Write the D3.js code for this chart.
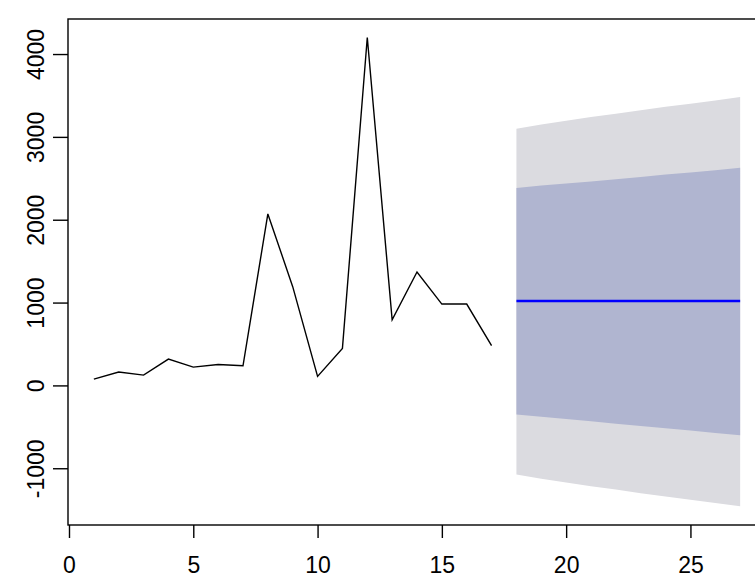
<!DOCTYPE html>
<html>
<head>
<meta charset="utf-8">
<script src="https://cdn.jsdelivr.net/npm/d3@7"></script>
<style>
  body { margin: 0; background: #fff; }
  svg { display: block; }
  .axis text { font-family: "Liberation Sans", Arial, sans-serif; font-size: 23px; fill: #000; }
</style>
</head>
<body>
<div id="chart"></div>
<script>
// observed series, t = 1..17
const obsX = [1, 2, 3, 4, 5, 6, 7, 8, 9, 10, 11, 12, 13, 14, 15, 16, 17];
const obsY = [76, 161, 124, 318, 221, 253, 237, 2070, 1192, 109, 447, 4200, 793, 1369, 982, 982, 479];

// forecast, t = 18..27
const fcX = [18, 19, 20, 21, 22, 23, 24, 25, 26, 27];
const fcMean = [1019, 1019, 1019, 1019, 1019, 1019, 1019, 1019, 1019, 1019];
const lo80 = [-350, -378, -406, -434, -462, -490, -518, -545, -573, -601];
const hi80 = [2384, 2412, 2436, 2460, 2489, 2517, 2545, 2569, 2598, 2626];
const lo95 = [-1076, -1126, -1172, -1217, -1257, -1302, -1342, -1380, -1420, -1459];
const hi95 = [3099, 3149, 3194, 3239, 3279, 3323, 3363, 3400, 3440, 3480];

const xTicks = [0, 5, 10, 15, 20, 25];
const yTicks = [-1000, 0, 1000, 2000, 3000, 4000];

const W = 755, H = 580;
const plot = { left: 68, top: 19, right: 766, bottom: 525 };

// R style: 4% padding on both ends of the x range
let x = d3.scaleLinear().domain([-0.04, 28.04]).range([plot.left, plot.right]);
let y = d3.scaleLinear().domain([-1685, 4423]).range([plot.bottom, plot.top]);

// plain hyphen like R, not the unicode minus
const fmt = d => String(d);

let svg = d3.select('#chart').append('svg')
    .attr('width', W)
    .attr('height', H);

svg.append('defs').append('clipPath').attr('id', 'clip')
    .append('rect')
    .attr('x', plot.left).attr('y', plot.top)
    .attr('width', plot.right - plot.left).attr('height', plot.bottom - plot.top);

let g = svg.append('g').attr('clip-path', 'url(#clip)');

// prediction bands, widest first
const area = (lo, hi) => d3.area()
    .x((d, i) => x(fcX[i]))
    .y0((d, i) => y(lo[i]))
    .y1((d, i) => y(hi[i]));

g.append('path').attr('d', area(lo95, hi95)(fcX)).attr('fill', '#dbdbe0');
g.append('path').attr('d', area(lo80, hi80)(fcX)).attr('fill', '#b0b5d0');

// forecast mean
g.append('path')
    .attr('d', d3.line().x((d, i) => x(fcX[i])).y((d, i) => y(fcMean[i]))(fcX))
    .attr('fill', 'none')
    .attr('stroke', '#0000ff')
    .attr('stroke-width', 2.6);

// observed series
g.append('path')
    .attr('d', d3.line().x((d, i) => x(obsX[i])).y((d, i) => y(obsY[i]))(obsX))
    .attr('fill', 'none')
    .attr('stroke', '#000')
    .attr('stroke-width', 1.4);

// box
svg.append('rect')
    .attr('x', plot.left).attr('y', plot.top)
    .attr('width', plot.right - plot.left).attr('height', plot.bottom - plot.top)
    .attr('fill', 'none')
    .attr('stroke', '#000')
    .attr('stroke-width', 1.4);

// x axis
let xAxis = d3.axisBottom(x).tickValues(xTicks).tickSize(13).tickPadding(19).tickFormat(fmt);
let gx = svg.append('g')
    .attr('class', 'axis')
    .attr('transform', 'translate(0,' + plot.bottom + ')')
    .call(xAxis);
gx.select('.domain').remove();
gx.selectAll('line').attr('stroke-width', 1.4);

// y axis, labels rotated like R
let yAxis = d3.axisLeft(y).tickValues(yTicks).tickSize(15).tickFormat(fmt);
let gy = svg.append('g')
    .attr('class', 'axis')
    .attr('transform', 'translate(' + plot.left + ',0)')
    .call(yAxis);
gy.select('.domain').remove();
gy.selectAll('line').attr('stroke-width', 1.4);
gy.selectAll('text')
    .attr('x', null)
    .attr('text-anchor', 'middle')
    .attr('transform', 'translate(-17,0) rotate(-90)')
    .attr('dy', '-0.3em');
</script>
</body>
</html>
